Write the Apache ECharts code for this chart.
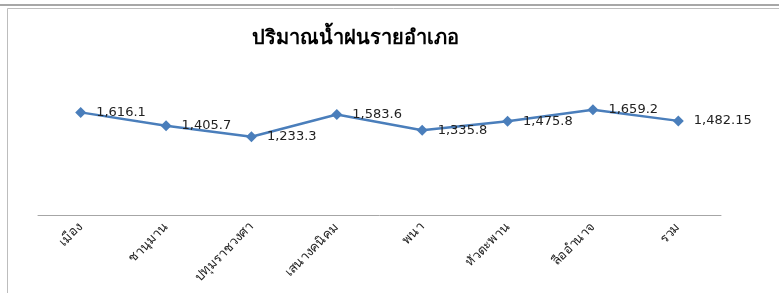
<!DOCTYPE html>
<html>
<head>
<meta charset="utf-8">
<script src="https://cdn.jsdelivr.net/npm/echarts@6/dist/echarts.min.js"></script>
<style>
  html, body { margin: 0; padding: 0; background: #fff; }
  #chart { width: 779px; height: 293px; }
</style>
</head>
<body>
<div id="chart"></div>
<script>
// ปริมาณน้ำฝนรายอำเภอ
var districts = ['เมือง', 'ชานุมาน', 'ปทุมราชวงศา', 'เสนางคนิคม', 'พนา', 'หัวตะพาน', 'ลืออำนาจ', 'รวม'];
var rainfall = [1616.1, 1405.7, 1233.3, 1583.6, 1335.8, 1475.8, 1659.2, 1482.15];

var chart = echarts.init(document.getElementById('chart'));

function fmt(v) {
  var parts = String(v).split('.');
  parts[0] = parts[0].replace(/\B(?=(\d{3})+(?!\d))/g, ',');
  return parts.join('.');
}

var option = {
  animation: false,
  backgroundColor: '#fff',
  title: {
    text: 'ปริมาณน้ำฝนรายอำเภอ',
    left: 350,
    textAlign: 'center',
    top: 24,
    textStyle: {
      fontFamily: 'serif',
      fontSize: 20,
      fontWeight: 'bold',
      color: '#000'
    }
  },
  graphic: [
    { type: 'line', shape: { x1: 0, y1: 5, x2: 779, y2: 5 }, style: { stroke: '#8a8a8a', lineWidth: 1.5 } },
    { type: 'rect', shape: { x: 7.5, y: 8.5, width: 800, height: 300 }, style: { fill: 'none', stroke: '#bdbdbd', lineWidth: 1 } }
  ],
  grid: {
    left: 38,
    right: 58,
    top: 88,
    bottom: 78
  },
  xAxis: {
    type: 'category',
    data: districts,
    axisLine: { lineStyle: { color: '#a6a6a6', width: 1 } },
    axisTick: { show: false },
    axisLabel: {
      rotate: 45,
      interval: 0,
      margin: 10,
      fontSize: 13,
      color: '#222',
      fontFamily: 'sans-serif'
    }
  },
  yAxis: {
    type: 'value',
    min: 0,
    max: 2000,
    show: false,
    splitLine: { show: false }
  },
  series: [
    {
      type: 'line',
      data: rainfall,
      symbol: 'diamond',
      symbolSize: 11,
      lineStyle: { color: '#4a7ebb', width: 2.5 },
      itemStyle: { color: '#4a7ebb' },
      label: {
        show: true,
        position: 'right',
        distance: 10,
        fontFamily: 'DejaVu Sans',
        fontSize: 13,
        color: '#222',
        formatter: function (p) { return fmt(p.value); }
      }
    }
  ]
};

chart.setOption(option);
</script>
</body>
</html>
